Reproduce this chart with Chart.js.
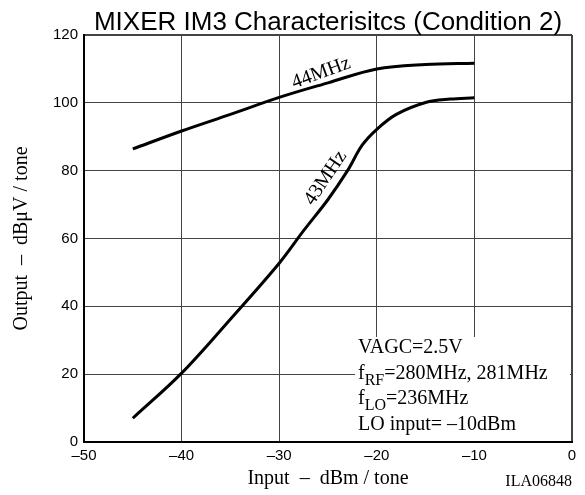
<!DOCTYPE html>
<html>
<head>
<meta charset="utf-8">
<script src="https://cdn.jsdelivr.net/npm/chart.js@4"></script>
<style>
  html, body { margin: 0; padding: 0; background: #fff; }
  #wrap { width: 585px; height: 495px; position: relative; }
</style>
</head>
<body>
<div id="wrap"><canvas id="grafico"></canvas></div>
<script>
// valores
const entrada44 = [-45, -40, -35, -30, -25, -20, -15, -10];
const saida44   = [86.4, 91.7, 96.6, 101.6, 105.9, 110.0, 111.3, 111.7];

const entrada43 = [-45, -40, -35, -30, -27.5, -25, -23, -21.5, -20, -18, -15, -12.5, -10];
const saida43   = [7, 20.3, 36.2, 52.7, 62.3, 71.5, 80, 87.5, 92.2, 96.6, 100.1, 101.1, 101.5];

const ticksX = [-50, -40, -30, -20, -10, 0];
const ticksY = [0, 20, 40, 60, 80, 100, 120];

const titulo = "MIXER IM3 Characterisitcs (Condition 2)";
const tituloX = "Input  \u2013  dBm / tone";
const tituloY = "Output  \u2013  dB\u03bcV / tone";
const codigo = "ILA06848";

function montaPontos(xs, ys){
    return xs.map((x, i) => ({ x: x, y: ys[i] }));
}

const serif = '"Liberation Serif", "Times New Roman", serif';
const sans = '"Liberation Sans", Arial, sans-serif';

// textos e caixa branca das condicoes
const textos = {
  id: 'textos',
  beforeDatasetsDraw(chart){
    const ctx = chart.ctx;
    const a = chart.chartArea;
    ctx.save();
    ctx.fillStyle = '#fff';
    ctx.fillRect(355, 337, a.right - 2 - 355, a.bottom - 1 - 337);
    ctx.restore();
  },
  afterDraw(chart){
    const ctx = chart.ctx;
    const a = chart.chartArea;
    const cx = (a.left + a.right) / 2;
    ctx.save();
    ctx.fillStyle = '#000';

    ctx.font = '26px ' + sans;
    ctx.textAlign = 'center';
    ctx.textBaseline = 'alphabetic';
    ctx.fillText(titulo, cx, 30);

    ctx.font = '20px ' + serif;
    ctx.fillText(tituloX, cx, 484);

    ctx.save();
    ctx.translate(27, (a.top + a.bottom) / 2);
    ctx.rotate(-Math.PI / 2);
    ctx.fillText(tituloY, 0, 0);
    ctx.restore();

    ctx.font = '16px ' + serif;
    ctx.textAlign = 'right';
    ctx.fillText(codigo, 572, 486);

    // rotulos das curvas
    ctx.font = '20px ' + serif;
    ctx.textAlign = 'center';
    ctx.save();
    ctx.translate(323, 78);
    ctx.rotate(-20 * Math.PI / 180);
    ctx.fillText('44MHz', 0, 0);
    ctx.restore();

    ctx.save();
    ctx.translate(330, 181);
    ctx.rotate(-56 * Math.PI / 180);
    ctx.fillText('43MHz', 0, 0);
    ctx.restore();

    // condicoes
    ctx.textAlign = 'left';
    const x0 = 358;
    ctx.font = '20px ' + serif;
    ctx.fillText('VAGC=2.5V', x0, 353);

    let x = x0;
    ctx.fillText('f', x, 379);
    x += ctx.measureText('f').width;
    ctx.font = '16px ' + serif;
    ctx.fillText('RF', x, 385);
    x += ctx.measureText('RF').width;
    ctx.font = '20px ' + serif;
    ctx.fillText('=280MHz, 281MHz', x, 379);

    x = x0;
    ctx.fillText('f', x, 404);
    x += ctx.measureText('f').width;
    ctx.font = '16px ' + serif;
    ctx.fillText('LO', x, 410);
    x += ctx.measureText('LO').width;
    ctx.font = '20px ' + serif;
    ctx.fillText('=236MHz', x, 404);

    ctx.fillText('LO input= \u201310dBm', x0, 430);
    ctx.restore();
  }
};

const grafico = new Chart(document.getElementById('grafico'), {
    type: 'scatter',
    data: {
      datasets: [{
        label: '44MHz',
        data: montaPontos(entrada44, saida44),
        showLine: true,
        borderColor: '#000',
        borderWidth: 3,
        pointRadius: 0,
        tension: 0.35
      }, {
        label: '43MHz',
        data: montaPontos(entrada43, saida43),
        showLine: true,
        borderColor: '#000',
        borderWidth: 3,
        pointRadius: 0,
        tension: 0.35
      }]
    },
    options: {
      responsive: true,
      maintainAspectRatio: false,
      animation: false,
      layout: { padding: { top: 35, right: 13, left: 0, bottom: 0 } },
      plugins: {
        legend: { display: false },
        tooltip: { enabled: false }
      },
      scales: {
        x: {
          type: 'linear',
          min: -50,
          max: 0,
          afterBuildTicks: (eixo) => { eixo.ticks = ticksX.map(v => ({ value: v })); },
          afterFit: (eixo) => { eixo.height = 53; },
          ticks: {
            color: '#000',
            font: { family: sans, size: 15 },
            padding: 5,
            maxRotation: 0,
            callback: (v) => (v < 0 ? '\u2013' + Math.abs(v) : String(v))
          },
          grid: {
            color: '#444',
            lineWidth: (c) => (c.tick && c.tick.value === 0 ? 2 : 1),
            drawTicks: false
          },
          border: { color: '#000', width: 2 }
        },
        y: {
          min: 0,
          max: 120,
          afterBuildTicks: (eixo) => { eixo.ticks = ticksY.map(v => ({ value: v })); },
          afterFit: (eixo) => { eixo.width = 84; },
          ticks: {
            color: '#000',
            font: { family: sans, size: 15 },
            padding: 6
          },
          grid: {
            color: '#444',
            lineWidth: (c) => (c.tick && c.tick.value === 120 ? 2 : 1),
            drawTicks: false
          },
          border: { color: '#000', width: 2 }
        }
      }
    },
    plugins: [textos]
  });
</script>
</body>
</html>
